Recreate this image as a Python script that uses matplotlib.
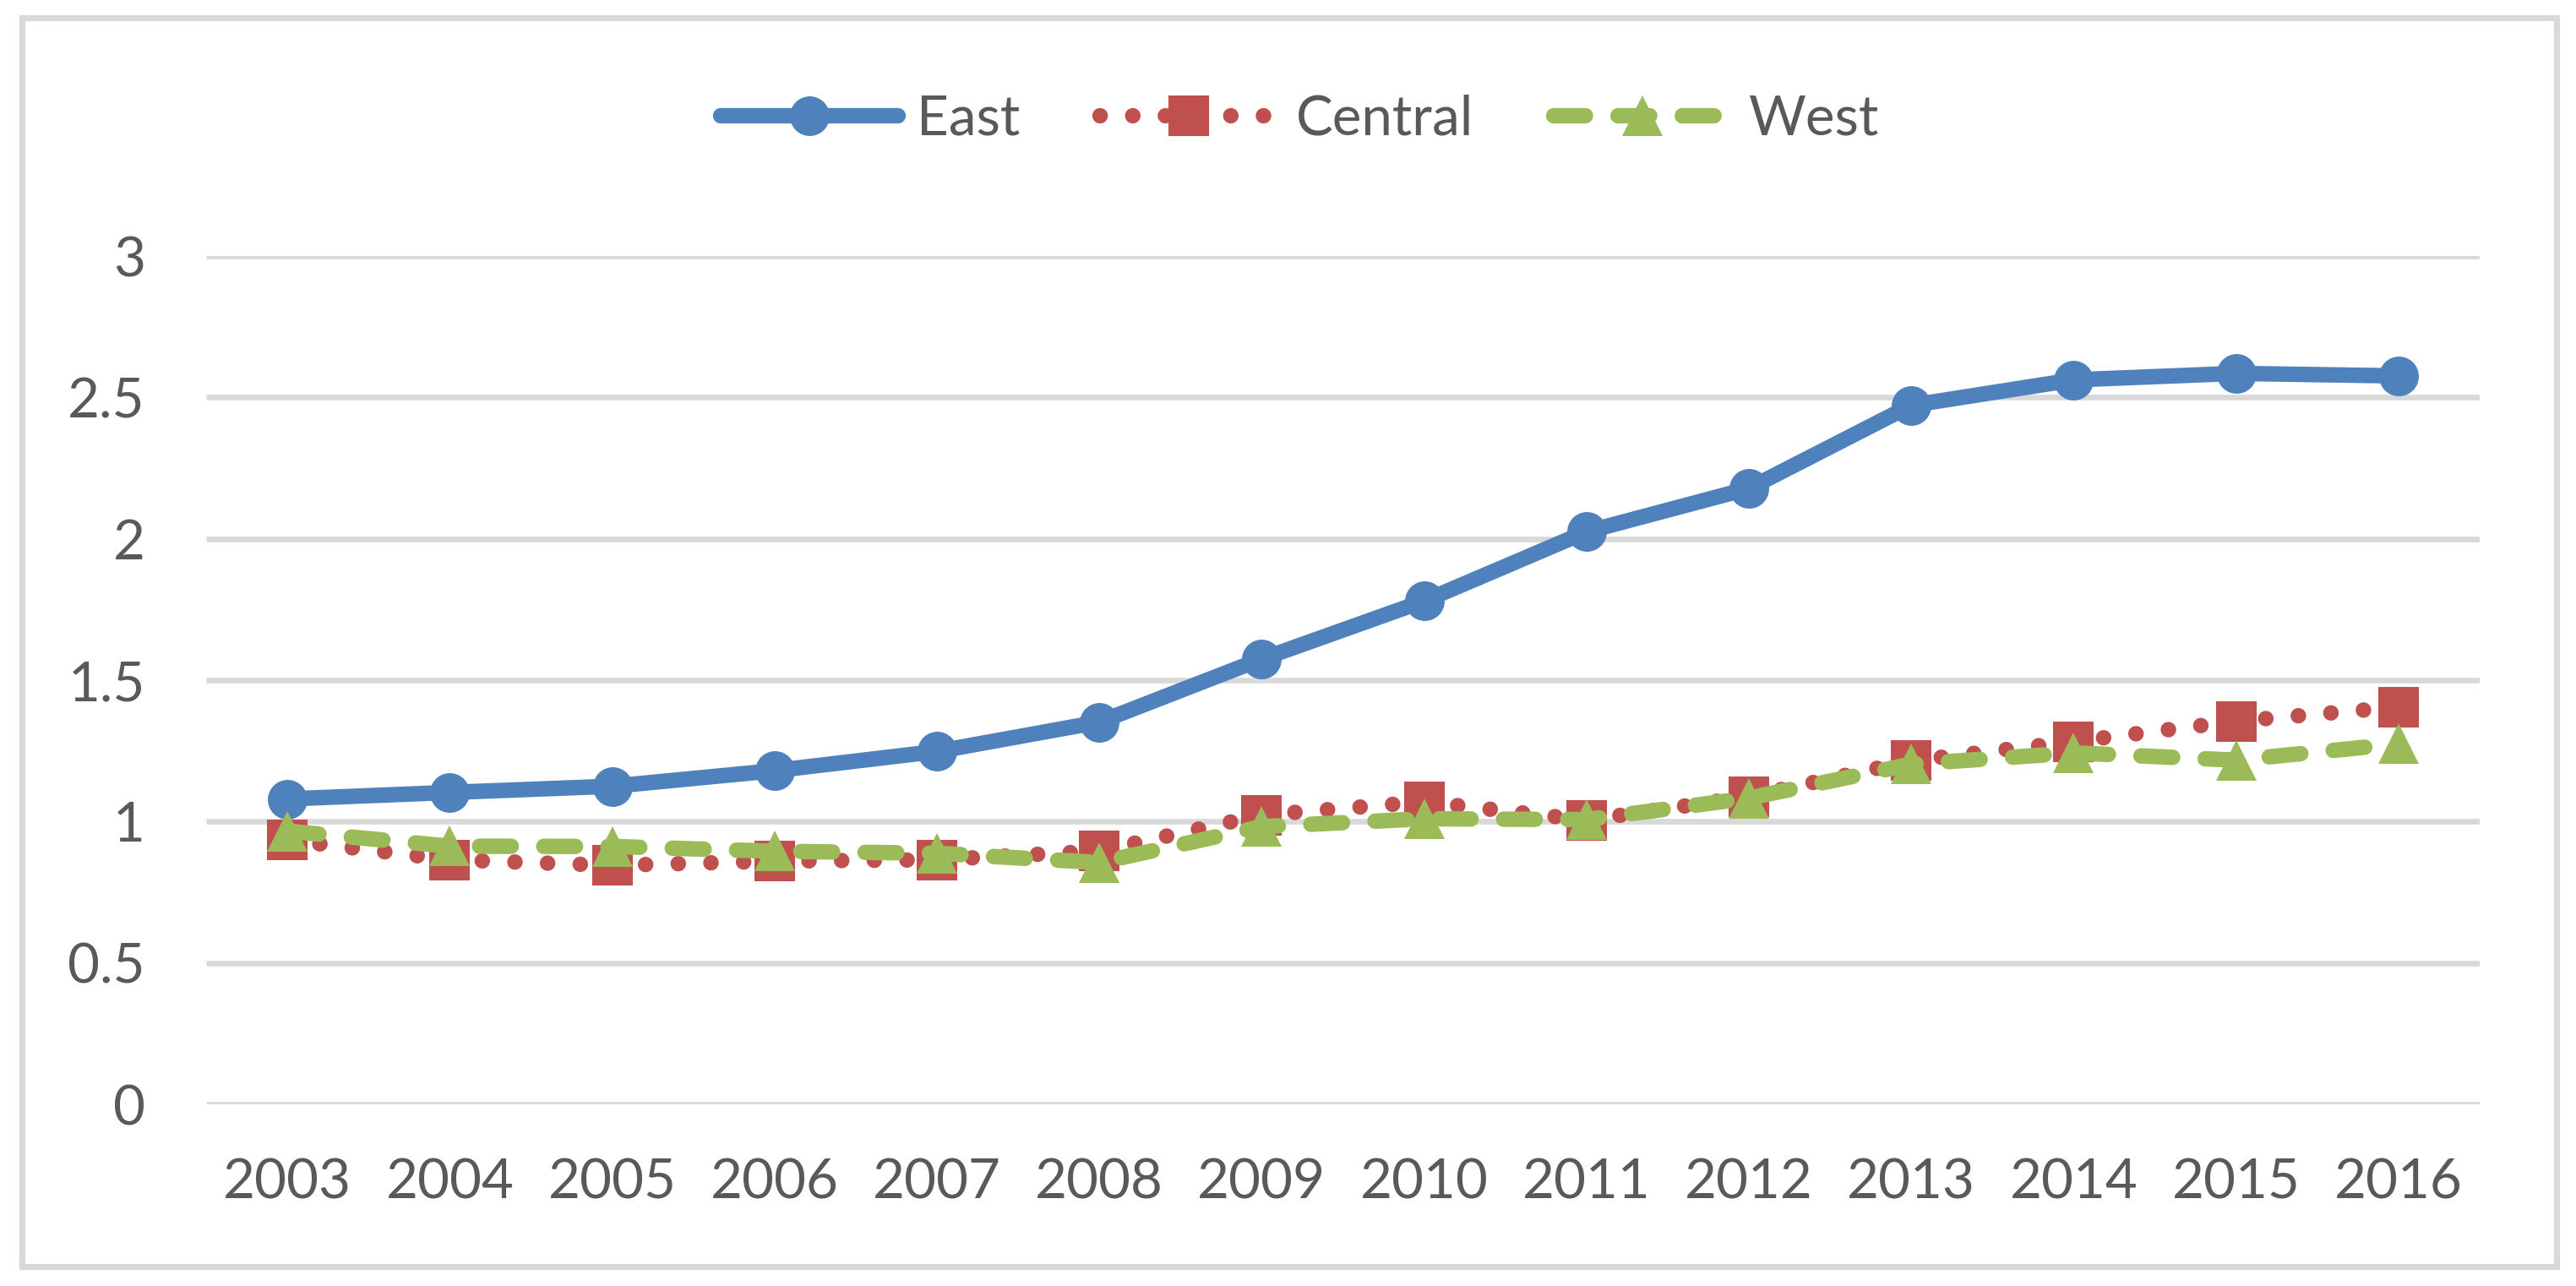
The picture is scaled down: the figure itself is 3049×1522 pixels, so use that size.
import matplotlib
matplotlib.use("Agg")
import matplotlib.pyplot as plt
from matplotlib.patches import Rectangle

years = ["2003", "2004", "2005", "2006", "2007", "2008", "2009",
         "2010", "2011", "2012", "2013", "2014", "2015", "2016"]
east = [1.08, 1.103, 1.125, 1.18, 1.248, 1.352, 1.575, 1.78, 2.025, 2.178,
        2.472, 2.562, 2.585, 2.576]
central = [0.935, 0.865, 0.845, 0.86, 0.865, 0.896, 1.023, 1.07, 1.005,
           1.088, 1.215, 1.283, 1.355, 1.405]
west = [0.966, 0.913, 0.912, 0.895, 0.888, 0.855, 0.982, 1.01, 1.007,
        1.083, 1.203, 1.243, 1.217, 1.275]
yticks = [0, 0.5, 1, 1.5, 2, 2.5, 3]
ytick_labels = ["0", "0.5", "1", "1.5", "2", "2.5", "3"]

plt.rcParams['font.family'] = ['Lato', 'DejaVu Sans']
TXT = "#595959"
FS = 23.6

W, H, DPI = 3049, 1522, 200
fig = plt.figure(figsize=(W / DPI, H / DPI), dpi=DPI)
ax = fig.add_axes([244 / W, 1 - 1307 / H, (2935 - 244) / W, (1307 - 303) / H])

x = list(range(len(years)))
lw = 6.6
l1, = ax.plot(x, east, color="#4F81BD", lw=lw, solid_capstyle="round",
              solid_joinstyle="round", marker="o", ms=16.9, mew=0,
              label="East", clip_on=False, zorder=3)
l2, = ax.plot(x, central, color="#C0504D", lw=lw, linestyle=(0, (0.01, 2.1)),
              dash_capstyle="round", marker="s", ms=17.5, mew=0,
              label="Central", clip_on=False, zorder=4)
l3, = ax.plot(x, west, color="#9BBB59", lw=lw, linestyle=(0, (2.05, 2.1)),
              dash_capstyle="round", marker="^", ms=17.2, mew=0,
              label="West", clip_on=False, zorder=5)

ax.set_xlim(-0.5, len(years) - 0.5)
ax.set_ylim(0, 3)
ax.set_xticks(x)
ax.set_xticklabels(years)
ax.set_yticks(yticks)
ax.set_yticklabels(ytick_labels)
ax.tick_params(axis="both", length=0, labelsize=FS, labelcolor=TXT)
ax.tick_params(axis="x", pad=23)
ax.tick_params(axis="y", pad=26)
for s in ax.spines.values():
    s.set_visible(False)
ax.yaxis.grid(True, color="#D9D9D9", lw=2.4, solid_capstyle="butt", zorder=0)
ax.set_axisbelow(True)

leg = fig.legend(handles=[l1, l2, l3], loc="center",
                 bbox_to_anchor=(1539 / W, 1 - 141 / H), ncol=3, frameon=False,
                 fontsize=FS, handlelength=3.2, handletextpad=0.33,
                 columnspacing=1.45, numpoints=1)
for t in leg.get_texts():
    t.set_color(TXT)

fig.patches.append(Rectangle((26 / W, 1 - 1499 / H), (3026 - 26) / W,
                             (1499 - 21) / H, transform=fig.transFigure,
                             fill=False, edgecolor="#D9D9D9", lw=2.6))

fig.savefig("out.png", dpi=DPI, facecolor="white")
